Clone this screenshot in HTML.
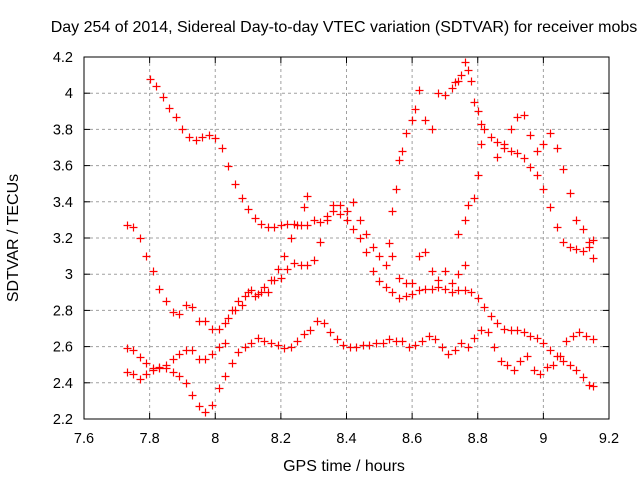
<!DOCTYPE html>
<html><head><meta charset="utf-8"><style>
body{margin:0;background:#fff}
svg{display:block;font-family:"Liberation Sans",sans-serif}
</style></head><body>
<svg id="c" width="640" height="480">
<text x="344" y="32" font-size="16" text-anchor="middle" fill="#000">Day 254 of 2014, Sidereal Day-to-day VTEC variation (SDTVAR) for receiver mobs</text>
<text x="344" y="471" font-size="16" text-anchor="middle">GPS time / hours</text>
<text x="18" y="238" font-size="16" text-anchor="middle" transform="rotate(-90 18 238)">SDTVAR / TECUs</text>
<g id="grid"></g><g id="marks"></g>
<rect x="84" y="57" width="525" height="362" fill="none" stroke="#000" stroke-width="1"/>
</svg>
<script>
const xTicks=[7.6,7.8,8,8.2,8.4,8.6,8.8,9,9.2];
const xTickLabels=["7.6","7.8","8","8.2","8.4","8.6","8.8","9","9.2"];
const yTicks=[2.2,2.4,2.6,2.8,3,3.2,3.4,3.6,3.8,4,4.2];
const yTickLabels=["2.2","2.4","2.6","2.8","3","3.2","3.4","3.6","3.8","4","4.2"];
const trackA=[[7.80,4.08],[7.82,4.04],[7.84,3.98],[7.86,3.92],[7.88,3.87],[7.90,3.80],[7.92,3.76],[7.94,3.74],[7.96,3.76],[7.98,3.77],[8.00,3.75],[8.02,3.70],[8.04,3.60],[8.06,3.50],[8.08,3.42],[8.10,3.36],[8.12,3.31],[8.14,3.28],[8.16,3.26],[8.18,3.26],[8.20,3.27],[8.22,3.28],[8.24,3.28],[8.26,3.27],[8.28,3.27],[8.30,3.30],[8.32,3.29],[8.34,3.32],[8.36,3.35],[8.38,3.33],[8.40,3.30],[8.42,3.25],[8.44,3.20],[8.46,3.12],[8.48,3.02],[8.50,2.96],[8.52,2.93],[8.54,2.90],[8.56,2.87],[8.58,2.88],[8.60,2.89],[8.62,2.91],[8.64,2.92],[8.66,2.92],[8.68,2.93],[8.70,2.92],[8.72,2.90],[8.74,2.91],[8.76,2.91],[8.78,2.90],[8.80,2.87],[8.82,2.82],[8.84,2.77],[8.86,2.73],[8.88,2.70],[8.90,2.69],[8.92,2.69],[8.94,2.68],[8.96,2.66],[8.98,2.65],[9.00,2.62],[9.02,2.58],[9.04,2.55],[9.06,2.52],[9.08,2.50],[9.10,2.47],[9.12,2.43],[9.14,2.39],[9.15,2.38]];
const trackB=[[7.73,3.27],[7.75,3.26],[7.77,3.20],[7.79,3.10],[7.81,3.02],[7.83,2.92],[7.85,2.85],[7.87,2.79],[7.89,2.78],[7.91,2.83],[7.93,2.82],[7.95,2.74],[7.97,2.74],[7.99,2.70],[8.01,2.70],[8.03,2.73],[8.05,2.80],[8.07,2.85],[8.09,2.88],[8.11,2.91],[8.13,2.89],[8.15,2.93],[8.17,2.97],[8.19,3.03],[8.21,3.10],[8.23,3.20],[8.25,3.27],[8.27,3.37],[8.28,3.43]];
const trackC=[[8.04,2.76],[8.06,2.80],[8.08,2.83],[8.10,2.90],[8.12,2.88],[8.14,2.90],[8.16,2.90],[8.18,2.97],[8.20,2.98],[8.22,3.03],[8.24,3.06],[8.26,3.05],[8.28,3.05],[8.30,3.08],[8.32,3.18],[8.34,3.30],[8.36,3.38],[8.38,3.38],[8.40,3.35],[8.42,3.40],[8.44,3.30],[8.46,3.22],[8.48,3.15],[8.50,3.10],[8.52,3.05],[8.53,3.17],[8.54,3.10],[8.56,2.98],[8.58,2.95],[8.60,2.95],[8.62,3.10],[8.64,3.12],[8.66,3.02],[8.68,2.97],[8.70,3.02],[8.72,2.95],[8.74,3.00],[8.76,3.05]];
const trackArc=[[8.54,3.35],[8.55,3.47],[8.56,3.63],[8.57,3.68],[8.58,3.78],[8.60,3.85],[8.61,3.91],[8.62,4.02],[8.64,3.85],[8.66,3.80],[8.68,4.00],[8.70,3.99],[8.72,4.03],[8.73,4.06],[8.74,4.07],[8.75,4.10],[8.76,4.17],[8.77,4.13],[8.78,4.07],[8.79,3.95],[8.80,3.90],[8.81,3.83],[8.82,3.80],[8.84,3.76],[8.86,3.73],[8.88,3.70],[8.90,3.68],[8.92,3.67],[8.94,3.64],[8.96,3.59],[8.98,3.55],[9.00,3.47],[9.02,3.37],[9.04,3.26],[9.06,3.18],[9.08,3.15],[9.10,3.14],[9.12,3.13],[9.14,3.15],[9.15,3.09]];
const trackUp=[[8.74,3.22],[8.76,3.30],[8.77,3.38],[8.79,3.42],[8.80,3.55],[8.81,3.72],[8.86,3.65],[8.88,3.72],[8.90,3.80],[8.92,3.87],[8.94,3.88],[8.96,3.77],[8.98,3.68],[9.00,3.72],[9.02,3.78],[9.04,3.70],[9.06,3.58],[9.08,3.45],[9.10,3.30],[9.12,3.25],[9.14,3.18],[9.15,3.19]];
const trackD1=[[7.73,2.59],[7.75,2.58],[7.77,2.54],[7.79,2.51],[7.81,2.47],[7.83,2.48],[7.85,2.48],[7.87,2.46],[7.89,2.44],[7.91,2.40],[7.93,2.33],[7.95,2.27],[7.97,2.24],[7.99,2.28],[8.01,2.37],[8.03,2.44],[8.05,2.51],[8.07,2.57],[8.09,2.60],[8.11,2.62],[8.13,2.65],[8.15,2.63],[8.17,2.62],[8.19,2.61],[8.21,2.59],[8.23,2.60],[8.25,2.63],[8.27,2.67],[8.29,2.69],[8.31,2.74],[8.33,2.73],[8.35,2.68],[8.37,2.64],[8.39,2.61],[8.41,2.60],[8.43,2.60],[8.45,2.61],[8.47,2.61],[8.49,2.62],[8.51,2.62],[8.53,2.64],[8.55,2.63],[8.57,2.63],[8.59,2.60],[8.61,2.61],[8.63,2.63],[8.65,2.66],[8.67,2.64],[8.69,2.60],[8.71,2.56],[8.73,2.58],[8.75,2.62],[8.77,2.60],[8.79,2.65],[8.81,2.69],[8.83,2.68],[8.85,2.60],[8.87,2.52],[8.89,2.50],[8.91,2.47],[8.93,2.52],[8.95,2.55],[8.97,2.47],[8.99,2.45],[9.01,2.49],[9.03,2.50],[9.05,2.55],[9.07,2.63],[9.09,2.66],[9.11,2.68],[9.13,2.66],[9.15,2.64]];
const trackD2=[[7.73,2.46],[7.75,2.45],[7.77,2.42],[7.79,2.45],[7.81,2.48],[7.83,2.49],[7.85,2.50],[7.87,2.53],[7.89,2.56],[7.91,2.58],[7.93,2.58],[7.95,2.53],[7.97,2.53],[7.99,2.56],[8.01,2.60],[8.03,2.62]];
const tracks=[trackA,trackB,trackC,trackArc,trackUp,trackD1,trackD2];

const X0=84,X1=609,Y0=419,Y1=57,xmin=7.6,xmax=9.2,ymin=2.2,ymax=4.2;
const sx=v=>X0+(v-xmin)/(xmax-xmin)*(X1-X0);
const sy=v=>Y0-(v-ymin)/(ymax-ymin)*(Y0-Y1);
const NS="http://www.w3.org/2000/svg";
const grid=document.getElementById('grid'),marks=document.getElementById('marks');
function mk(tag,attrs,parent){const e=document.createElementNS(NS,tag);for(const k in attrs)e.setAttribute(k,attrs[k]);parent.appendChild(e);return e;}
xTicks.forEach((t,i)=>{const x=sx(t);
 if(i>0&&i<xTicks.length-1){const g=mk('line',{x1:x,x2:x,y1:Y1,y2:Y0,stroke:'#a0a0a0','stroke-dasharray':'3,3'},grid);
 
 }
 mk('line',{x1:x,x2:x,y1:Y0,y2:Y0-6,stroke:'#000'},grid);
 mk('line',{x1:x,x2:x,y1:Y1,y2:Y1+6,stroke:'#000'},grid);
 const tx=mk('text',{x:x,y:443,'font-size':14.5,'text-anchor':'middle'},grid);tx.textContent=xTickLabels[i];
 
 });
yTicks.forEach((t,i)=>{const y=sy(t);
 if(i>0&&i<yTicks.length-1){const g=mk('line',{x1:X0,x2:X1,y1:y,y2:y,stroke:'#a0a0a0','stroke-dasharray':'3,3'},grid);
 
 }
 mk('line',{x1:X0,x2:X0+6,y1:y,y2:y,stroke:'#000'},grid);
 mk('line',{x1:X1,x2:X1-6,y1:y,y2:y,stroke:'#000'},grid);
 const tx=mk('text',{x:73,y:y+5,'font-size':14.5,'text-anchor':'end'},grid);tx.textContent=yTickLabels[i];
 
 });
tracks.forEach(tr=>tr.forEach(p=>{const x=Math.round(sx(p[0]))+0.5,y=Math.round(sy(p[1]))+0.5;
 const m=mk('path',{d:`M${x-4} ${y}H${x+4}M${x} ${y-4}V${y+4}`,stroke:'#ff0000','stroke-width':1.2,fill:'none'},marks);
 
 }));
</script>
</body></html>
